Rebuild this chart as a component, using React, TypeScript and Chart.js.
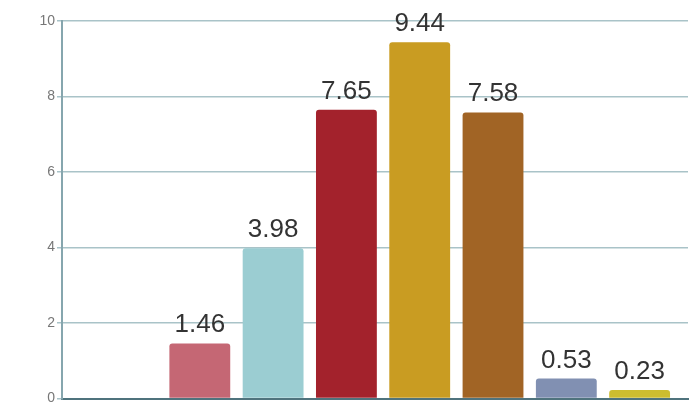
import React, { useEffect, useRef } from "react";
import { Chart, registerables } from "chart.js";

Chart.register(...registerables);

const categories = ["", "A", "B", "C", "D", "E", "F", "G"];
const values: (number | null)[] = [null, 1.46, 3.98, 7.65, 9.44, 7.58, 0.53, 0.23];
const barColors = ["#ffffff", "#C56774", "#9BCDD2", "#A3222C", "#C99C22", "#A16425", "#8190B2", "#CDBD2F"];
const yTicks = [0, 2, 4, 6, 8, 10];

const valueLabels = {
  id: "valueLabels",
  afterDatasetsDraw(chart: any) {
    const ctx = chart.ctx;
    const meta = chart.getDatasetMeta(0);
    ctx.save();
    ctx.font = "26px 'Liberation Sans', Arial, sans-serif";
    ctx.fillStyle = "#333333";
    ctx.textAlign = "center";
    ctx.textBaseline = "alphabetic";
    meta.data.forEach((el: any, i: number) => {
      const v = values[i];
      if (v === null || v === undefined) return;
      ctx.fillText(v.toFixed(2), el.x, el.y - 11);
    });
    ctx.restore();
  },
};

export default function App() {
  const ref = useRef<HTMLCanvasElement | null>(null);
  useEffect(() => {
    document.body.style.margin = "0";
    const chart = new Chart(ref.current!, {
      type: "bar",
      data: {
        labels: categories,
        datasets: [
          {
            data: values.map((v, i) => ({ x: i, y: v })) as any,
            backgroundColor: barColors,
            borderRadius: 3,
            borderSkipped: "bottom",
            categoryPercentage: 1,
            barPercentage: 0.83,
          },
        ],
      },
      options: {
        responsive: false,
        animation: false,
        layout: { padding: { left: 0, right: 12, top: 21, bottom: 10 } },
        plugins: { legend: { display: false }, tooltip: { enabled: false } },
        scales: {
          x: {
            type: "linear",
            offset: false,
            min: -0.88,
            max: 7.66,
            afterBuildTicks: (s: any) => {
              s.ticks = categories.map((_, i) => ({ value: i }));
            },
            ticks: { display: false },
            grid: { display: false },
            border: { display: true, color: "#4F737D", width: 2 },
            afterFit: (s: any) => {
              s.height = 0;
            },
          },
          y: {
            min: 0,
            max: 10,
            afterBuildTicks: (s: any) => {
              s.ticks = yTicks.map((v) => ({ value: v }));
            },
            ticks: {
              padding: 2,
              color: "#777777",
              font: { family: "'Liberation Sans', Arial, sans-serif", size: 14 },
            },
            grid: { color: "#A9C3C8", tickLength: 5, lineWidth: 1.5 },
            border: { display: true, color: "#86A6AE", width: 2 },
            afterFit: (s: any) => {
              s.width = 62;
            },
          },
        },
      },
      plugins: [valueLabels],
    });
    return () => chart.destroy();
  }, []);
  return (
    <div style={{ width: 700, height: 409 }}>
      <canvas ref={ref} width={700} height={409} />
    </div>
  );
}
